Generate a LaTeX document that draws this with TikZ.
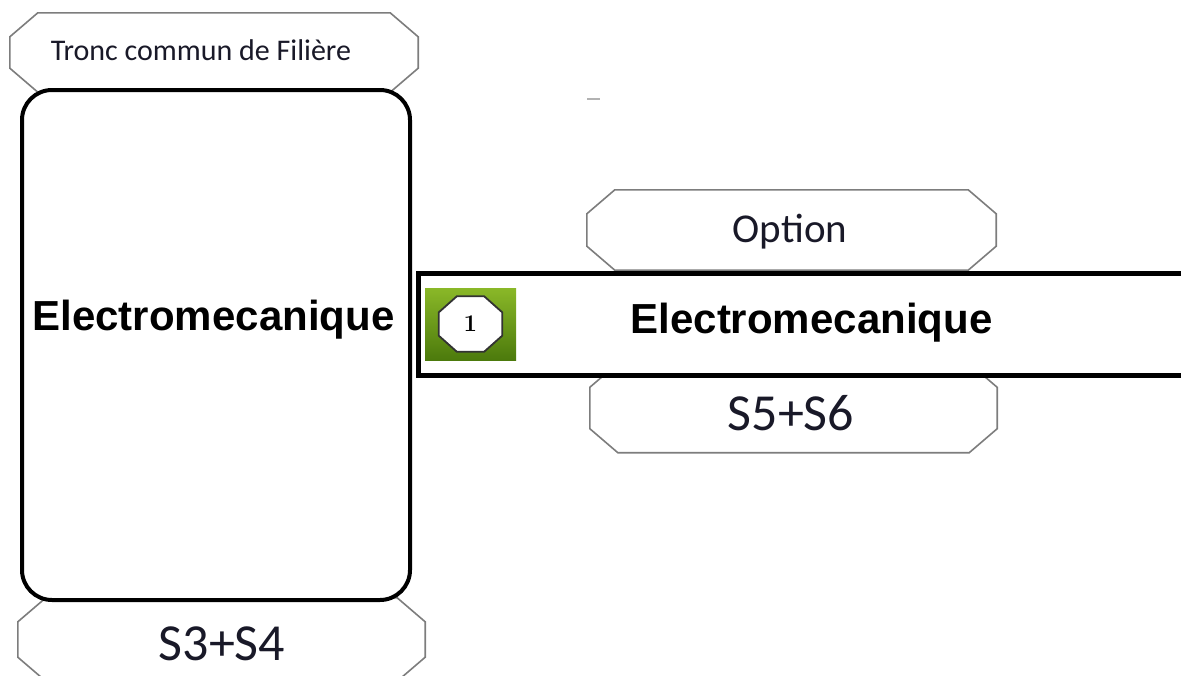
\documentclass[tikz,border=0pt]{standalone}
\usepackage{fontspec}
\setmainfont{Carlito}
\newfontfamily\arialfont{Liberation Sans}
\newfontfamily\lmfont{Latin Modern Roman}
\usetikzlibrary{calc,positioning}

\definecolor{cadregris}{RGB}{125,125,125}
\definecolor{textencre}{RGB}{25,25,40}
\definecolor{verthaut}{RGB}{138,184,40}
\definecolor{vertbas}{RGB}{76,122,12}

\tikzset{
  octbox/.style={rectangle, inner sep=0pt},
  octline/.style={draw=cadregris, line width=1.6pt, fill=white},
  octtxt/.style={text=textencre, inner sep=0pt},
  grostxt/.style={font=\arialfont\bfseries\fontsize{42}{46}\selectfont, inner sep=0pt},
}

% contour octogonal autour d'un noeud : nom, pan en x, pan en y
\newcommand{\octogone}[4][octline]{%
  \path[#1] ($(#2.north west)+(#3,0)$) -- ($(#2.north east)+(-#3,0)$)
    -- ($(#2.north east)+(0,#4)$) -- ($(#2.south east)+(0,-#4)$)
    -- ($(#2.south east)+(-#3,0)$) -- ($(#2.south west)+(#3,0)$)
    -- ($(#2.south west)+(0,-#4)$) -- ($(#2.north west)+(0,#4)$) -- cycle;}

\begin{document}
\begin{tikzpicture}[x=1pt,y=-1pt]
\useasboundingbox (0,0) rectangle (1181,675);
\clip (0,0) rectangle (1181,675);

% boites octogonales
\node[octbox, minimum width=408pt, minimum height=79pt] (tronc) at (214,52.5) {};
\node[octbox, minimum width=407pt, minimum height=83pt] (s34) at (221.5,639.5) {};
\node[octbox, minimum width=409pt, minimum height=80pt] (option) at (791.5,230) {};
\node[octbox, minimum width=407pt, minimum height=89pt] (s56) at (793.5,408) {};
\foreach \n in {tronc,s34,option,s56}
  \octogone{\n}{28}{24};

\node[octtxt, font=\fontsize{30}{34}\selectfont] (tronclabel) at (201,50) {Tronc commun de Filière};
\node[octtxt, font=\fontsize{41}{44}\selectfont] (optionlabel) at (790,232) {Option};
\node[octtxt, font=\fontsize{52}{56}\selectfont] (s34label) at (222,644) {S3+S4};
\node[octtxt, font=\fontsize{52}{56}\selectfont] (s56label) at (791,413) {S5+S6};

% cadre du tronc commun
\node[draw, line width=4pt, rounded corners=30pt, fill=white,
  minimum width=388pt, minimum height=510pt] (cadre) at (216,345) {};
\node[grostxt] (cadrelabel) at (213.5,320) {Electromecanique};

% bandeau de l'option
\node[draw, line width=5pt, fill=white, anchor=west,
  minimum width=790pt, minimum height=102pt] (barre) at (416,324) {};
\node[grostxt] (barrelabel) at (811.5,323) {Electromecanique};

% pastille verte
\node[top color=verthaut, bottom color=vertbas, inner sep=0pt,
  minimum width=91pt, minimum height=72pt] (badge) at (470.5,324) {};
\node[octbox, minimum width=63pt, minimum height=55pt] (puce) at (badge) {};
\octogone[draw=black!80, line width=1.8pt, fill=white]{puce}{18}{16}
\node[font=\lmfont\bfseries\fontsize{24}{26}\selectfont, inner sep=0pt] (num) at (puce) {1};

% petit trait
\draw[gray!60, line width=1.5pt] (587,99) -- (600,99);

\end{tikzpicture}
\end{document}
